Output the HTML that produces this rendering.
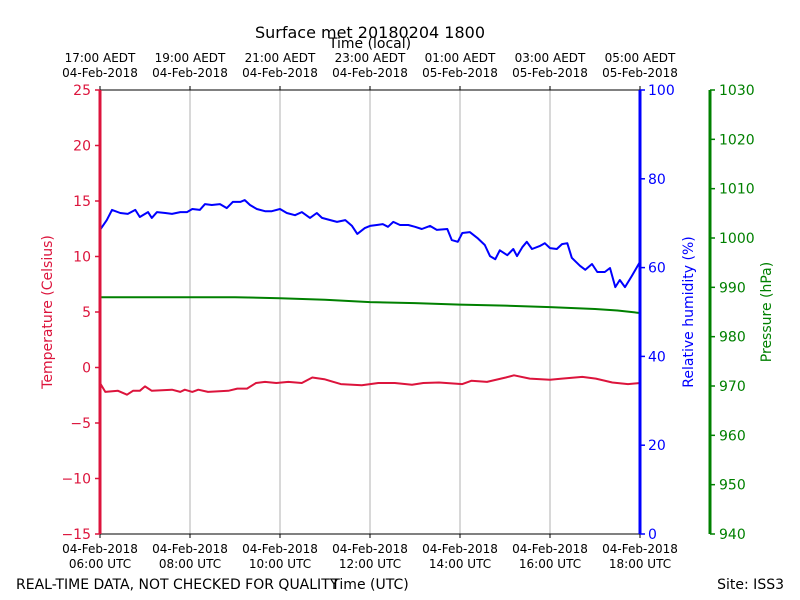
<!DOCTYPE html>
<html><head><meta charset="utf-8"><style>
body{margin:0;background:#fff}
svg{display:block;font-family:"DejaVu Sans","Liberation Sans",sans-serif}
</style></head><body>
<svg id="chart" width="800" height="600" viewBox="0 0 800 600" xmlns="http://www.w3.org/2000/svg">
<rect width="800" height="600" fill="#fff"/>
<text x="370" y="38" font-size="16" text-anchor="middle">Surface met 20180204 1800</text>
<text x="370" y="48" font-size="14" text-anchor="middle">Time (local)</text>
<text x="16" y="589" font-size="14">REAL-TIME DATA, NOT CHECKED FOR QUALITY</text>
<text x="370" y="589" font-size="14" text-anchor="middle">Time (UTC)</text>
<text x="784" y="589" font-size="14" text-anchor="end">Site: ISS3</text>
<text transform="translate(52,312) rotate(-90)" font-size="14" fill="#dc143c" text-anchor="middle">Temperature (Celsius)</text>
<text transform="translate(693,312) rotate(-90)" font-size="14" fill="#0000ff" text-anchor="middle">Relative humidity (%)</text>
<text transform="translate(771,312) rotate(-90)" font-size="14" fill="#008000" text-anchor="middle">Pressure (hPa)</text>
<g id="layer"></g>
</svg>
<script>
const tempTicks=[-15,-10,-5,0,5,10,15,20,25];
const rhTicks=[0,20,40,60,80,100];
const presTicks=[940,950,960,970,980,990,1000,1010,1020,1030];
const hourTicks=[0,2,4,6,8,10,12];
const utcLabels=["06:00 UTC","08:00 UTC","10:00 UTC","12:00 UTC","14:00 UTC","16:00 UTC","18:00 UTC"];
const utcDates=["04-Feb-2018","04-Feb-2018","04-Feb-2018","04-Feb-2018","04-Feb-2018","04-Feb-2018","04-Feb-2018"];
const localLabels=["17:00 AEDT","19:00 AEDT","21:00 AEDT","23:00 AEDT","01:00 AEDT","03:00 AEDT","05:00 AEDT"];
const localDates=["04-Feb-2018","04-Feb-2018","04-Feb-2018","04-Feb-2018","05-Feb-2018","05-Feb-2018","05-Feb-2018"];
const rhMin=[0,9,16,27,37,47,53,64,69,76,87,96,107,116,123,133,140,149,160,169,177,187,193,200,209,220,229,240,249,260,269,280,289,296,307,316,327,336,343,353,360,369,377,384,391,400,411,420,429,440,449,463,469,477,483,493,503,513,520,527,533,543,551,556,563,569,576,587,593,600,609,616,623,629,640,647,656,663,673,680,687,693,700,709,720];
const rhVal=[68.5,70.7,73.0,72.3,72.1,73.0,71.4,72.5,71.2,72.5,72.3,72.1,72.5,72.5,73.2,73.0,74.3,74.1,74.3,73.4,74.8,74.8,75.2,74.1,73.2,72.7,72.7,73.2,72.3,71.8,72.5,71.2,72.3,71.2,70.7,70.3,70.7,69.4,67.6,68.9,69.4,69.6,69.8,69.2,70.3,69.6,69.6,69.2,68.7,69.4,68.5,68.7,66.2,65.8,67.8,68.0,66.7,65.1,62.6,61.9,63.9,62.8,64.2,62.6,64.6,65.8,64.2,64.9,65.5,64.4,64.2,65.3,65.5,62.2,60.4,59.5,60.8,59.0,59.0,59.9,55.6,57.2,55.6,58.1,61.3];
const presMin=[0,60,120,180,240,300,360,420,480,540,600,660,690,720];
const presVal=[988.0,988.0,988.0,988.0,987.8,987.5,987.0,986.8,986.5,986.3,986.0,985.6,985.3,984.8];
const tempMin=[0,7,24,36,44,53,60,69,96,107,113,123,131,144,171,183,196,208,220,235,251,269,283,299,321,349,371,393,416,431,452,483,495,516,541,552,573,600,616,643,661,683,704,720];
const tempVal=[-1.4,-2.2,-2.1,-2.45,-2.1,-2.1,-1.7,-2.1,-2.0,-2.2,-2.0,-2.2,-2.0,-2.2,-2.1,-1.9,-1.9,-1.4,-1.3,-1.4,-1.3,-1.4,-0.9,-1.05,-1.5,-1.6,-1.4,-1.4,-1.55,-1.4,-1.35,-1.5,-1.2,-1.3,-0.9,-0.7,-1.0,-1.1,-1.0,-0.85,-1.0,-1.35,-1.5,-1.4];

const L=100,R=640,T=90,B=534;
const xm=m=>L+(R-L)*m/720;
const xh=h=>xm(h*60);
const yT=v=>B-(v+15)/40*(B-T);
const yRH=v=>B-v/100*(B-T);
const yP=v=>B-(v-940)/90*(B-T);
const NS="http://www.w3.org/2000/svg";
const layer=document.getElementById('layer');
function mk(tag,attrs,txt){const e=document.createElementNS(NS,tag);for(const k in attrs)e.setAttribute(k,attrs[k]);if(txt!==undefined)e.textContent=txt;layer.appendChild(e);return e;}

hourTicks.forEach((h,i)=>{
  const x=xh(h);
  if(i>0&&i<hourTicks.length-1){
    const g=mk('line',{x1:x,x2:x,y1:T,y2:B,stroke:'#b0b0b0','stroke-width':1});
    
    
  }
  const tk=mk('line',{x1:x,x2:x,y1:B,y2:B+4,stroke:'#000'});
  
  
  const tk2=mk('line',{x1:x,x2:x,y1:T,y2:T-4,stroke:'#000'});
  
  
  const a=mk('text',{x:x,y:553,'font-size':12,'text-anchor':'middle'},utcDates[i]);
  
  
  const b=mk('text',{x:x,y:568,'font-size':12,'text-anchor':'middle'},utcLabels[i]);
  
  
  const c=mk('text',{x:x,y:62,'font-size':12,'text-anchor':'middle'},localLabels[i]);
  
  
  const d=mk('text',{x:x,y:77,'font-size':12,'text-anchor':'middle'},localDates[i]);
  
  
});

function fmt(v){return v<0?'\u2212'+Math.abs(v):String(v);}
tempTicks.forEach(v=>{const y=yT(v);
  const t=mk('line',{x1:L-5,x2:L,y1:y,y2:y,stroke:'#dc143c','stroke-width':1.5});
  
  
  const s=mk('text',{x:L-9,y:y+5,'font-size':14,'text-anchor':'end',fill:'#dc143c'},fmt(v));
  
  
});
rhTicks.forEach(v=>{const y=yRH(v);
  const t=mk('line',{x1:R,x2:R+5,y1:y,y2:y,stroke:'#0000ff','stroke-width':1.5});
  
  
  const s=mk('text',{x:R+8,y:y+5,'font-size':14,fill:'#0000ff'},String(v));
  
  
});
presTicks.forEach(v=>{const y=yP(v);
  const t=mk('line',{x1:710,x2:715,y1:y,y2:y,stroke:'#008000','stroke-width':1.5});
  
  
  const s=mk('text',{x:719,y:y+5,'font-size':14,fill:'#008000'},String(v));
  
  
});

function line(ts,vs,yf,color,name){
  const d=ts.map((m,i)=>(i?'L':'M')+xm(m).toFixed(1)+','+yf(vs[i]).toFixed(1)).join('');
  const p=mk('path',{d:d,fill:'none',stroke:color,'stroke-width':2,'stroke-linejoin':'round'});
  
  
}
line(presMin,presVal,yP,'#008000','pressure-line');
line(rhMin,rhVal,yRH,'#0000ff','humidity-line');
line(tempMin,tempVal,yT,'#dc143c','temperature-line');

const sp=[[L,T,R,T,'#000',1,'top-spine'],[L,B,R,B,'#000',1,'bottom-spine'],[L,T,L,B,'#dc143c',3,'temperature-axis'],[R,T,R,B,'#0000ff',3,'humidity-axis'],[710,T,710,B,'#008000',3,'pressure-axis']];
sp.forEach(s=>{const e=mk('line',{x1:s[0],y1:s[1],x2:s[2],y2:s[3],stroke:s[4],'stroke-width':s[5]});
  
  
});
</script>
</body></html>
